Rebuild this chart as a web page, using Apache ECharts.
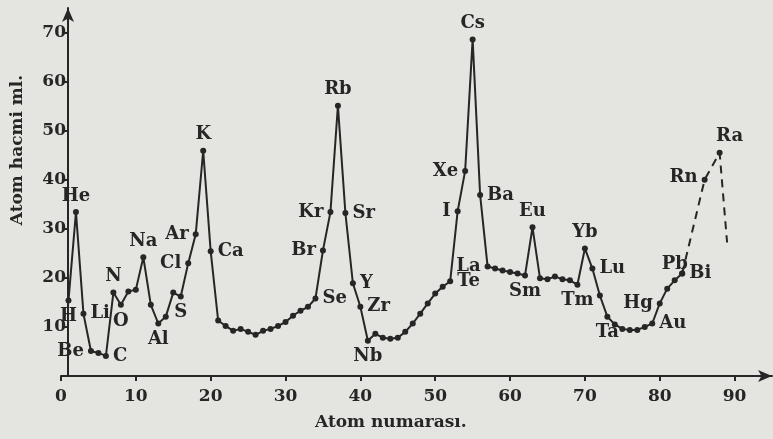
<!DOCTYPE html>
<html><head><meta charset="utf-8">
<script src="https://cdn.jsdelivr.net/npm/echarts@6/dist/echarts.min.js"></script>
<style>html,body{margin:0;padding:0;background:#e4e4e0;}#c{width:773px;height:439px;}</style>
</head><body><div id="c"></div>
<script>
// ---- data ----
const symbols = ['H','He','Li','Be','B','C','N','O','F','Ne','Na','Mg','Al','Si','P','S','Cl','Ar','K','Ca',
  'Sc','Ti','V','Cr','Mn','Fe','Co','Ni','Cu','Zn','Ga','Ge','As','Se','Br','Kr','Rb','Sr','Y','Zr',
  'Nb','Mo','Tc','Ru','Rh','Pd','Ag','Cd','In','Sn','Sb','Te','I','Xe','Cs','Ba','La','Ce','Pr','Nd',
  'Pm','Sm','Eu','Gd','Tb','Dy','Ho','Er','Tm','Yb','Lu','Hf','Ta','W','Re','Os','Ir','Pt','Au','Hg',
  'Tl','Pb','Bi'];
const atomicNumbers = [1,2,3,4,5,6,7,8,9,10,11,12,13,14,15,16,17,18,19,20,
  21,22,23,24,25,26,27,28,29,30,31,32,33,34,35,36,37,38,39,40,
  41,42,43,44,45,46,47,48,49,50,51,52,53,54,55,56,57,58,59,60,
  61,62,63,64,65,66,67,68,69,70,71,72,73,74,75,76,77,78,79,80,
  81,82,83];
const volumes = [15.4,33.4,12.7,5.1,4.7,4.1,17.0,14.5,17.2,17.6,24.2,14.5,10.7,12.1,17.0,16.2,23.0,28.9,45.9,25.4,
  11.3,10.2,9.2,9.6,9.0,8.4,9.2,9.6,10.2,11.0,12.3,13.3,14.1,15.8,25.6,33.4,55.1,33.2,18.9,14.1,
  7.2,8.6,7.8,7.6,7.8,9.0,10.7,12.7,14.8,16.8,18.2,19.3,33.6,41.8,68.6,36.9,22.3,21.9,21.5,21.2,
  20.9,20.5,30.3,19.9,19.7,20.3,19.7,19.5,18.6,26.0,21.9,16.4,12.1,10.5,9.6,9.4,9.4,10.0,10.7,14.8,
  17.8,19.5,20.9];
// dashed (uncertain) continuation
const dashSymbols = ['Bi','Rn','Ra',''];
const dashNumbers = [83,86,88,89];
const dashVolumes = [20.9,40.0,45.5,27.2];
const yTickLabels = [10,20,30,40,50,60,70];
const xTickLabels = [0,10,20,30,40,50,60,70,80,90];

// ---- label placement (style only) ----
const labelPlace = {
  H:['bottom',2,0], He:['top',2,0], Li:['right',0,-7], Be:['left',0,3], C:['right',0,0],
  N:['top',-5,0], O:['bottom',4,0], Na:['top',2,0], Al:['bottom',0,0], S:['bottom',10,0],
  Cl:['left',0,2], Ar:['left',0,-11], K:['top',0,0], Ca:['right',0,-5], Se:['right',0,8],
  Br:['left',0,3], Kr:['left',0,1], Rb:['top',0,0], Sr:['right',0,-3], Y:['right',0,2],
  Zr:['right',0,2], Nb:['bottom',-15,0], Te:['right',0,12], I:['left',0,12], Xe:['left',0,1],
  Cs:['top',0,0], Ba:['right',0,-6], La:['left',0,0], Sm:['bottom',-11,0], Eu:['top',2,0],
  Tm:['bottom',0,0], Yb:['top',3,0], Lu:['right',0,0], Ta:['bottom',-10,0], Au:['right',0,7],
  Hg:['left',0,2], Pb:['top',-11,0], Bi:['right',0,8], Rn:['left',0,-2], Ra:['top',10,0]
};

const ink = '#262626';
const font = 'DejaVu Serif';

function build(syms, xs, ys, skipFirstLabel) {
  return xs.map((x, i) => {
    const s = syms[i];
    const d = { value: [x, ys[i]], name: s };
    const p = labelPlace[s];
    if (p && !(skipFirstLabel && i === 0)) {
      d.label = { show: true, formatter: s, position: p[0], offset: [p[1], p[2]] };
    }
    if (s === '') d.symbol = 'none';
    return d;
  });
}

const chart = echarts.init(document.getElementById('c'), null, {renderer:'canvas'});
chart.setOption({
  backgroundColor: '#e4e4e0',
  animation: false,
  grid: { left: 61, right: 1, top: 8, bottom: 63 },
  xAxis: {
    type: 'value', min: 0, max: 95, interval: 10,
    axisLine: { show: true, symbol: ['none','arrow'], symbolSize: [9, 14], lineStyle: { color: ink, width: 2 } },
    axisTick: { show: true, length: 5, customValues: xTickLabels, lineStyle: { color: ink, width: 2 } },
    axisLabel: { color: ink, fontFamily: font, fontWeight: 'bold', fontSize: 17, margin: 12, customValues: xTickLabels },
    splitLine: { show: false }
  },
  yAxis: {
    type: 'value', min: 0, max: 75, interval: 10, offset: -7,
    axisLine: { show: true, symbol: ['none','arrow'], symbolSize: [9, 14], lineStyle: { color: ink, width: 2 } },
    axisTick: { show: true, length: 6, customValues: yTickLabels, lineStyle: { color: ink, width: 2 } },
    axisLabel: { color: ink, fontFamily: font, fontWeight: 'bold', fontSize: 17, margin: 2, customValues: yTickLabels },
    splitLine: { show: false }
  },
  series: [
    {
      type: 'line', data: build(symbols, atomicNumbers, volumes, false),
      symbol: 'circle', symbolSize: 6, showSymbol: true,
      lineStyle: { color: ink, width: 2 }, itemStyle: { color: ink },
      label: { color: ink, fontFamily: font, fontWeight: 'bold', fontSize: 18, distance: 4 },
      labelLayout: { hideOverlap: false }
    },
    {
      type: 'line', data: build(dashSymbols, dashNumbers, dashVolumes, true),
      symbol: 'circle', symbolSize: 6,
      lineStyle: { color: ink, width: 2, type: [8, 6] }, itemStyle: { color: ink },
      label: { color: ink, fontFamily: font, fontWeight: 'bold', fontSize: 18, distance: 4 }
    }
  ],
  graphic: [
    { type: 'text', x: 18, y: 150, rotation: Math.PI / 2,
      style: { text: 'Atom hacmi ml.', fill: ink, font: 'bold 17px "DejaVu Serif"', textAlign: 'center', textVerticalAlign: 'middle' } },
    { type: 'text', left: 315, top: 414,
      style: { text: 'Atom numarası.', fill: ink, font: 'bold 17px "DejaVu Serif"' } }
  ]
});
</script></body></html>
